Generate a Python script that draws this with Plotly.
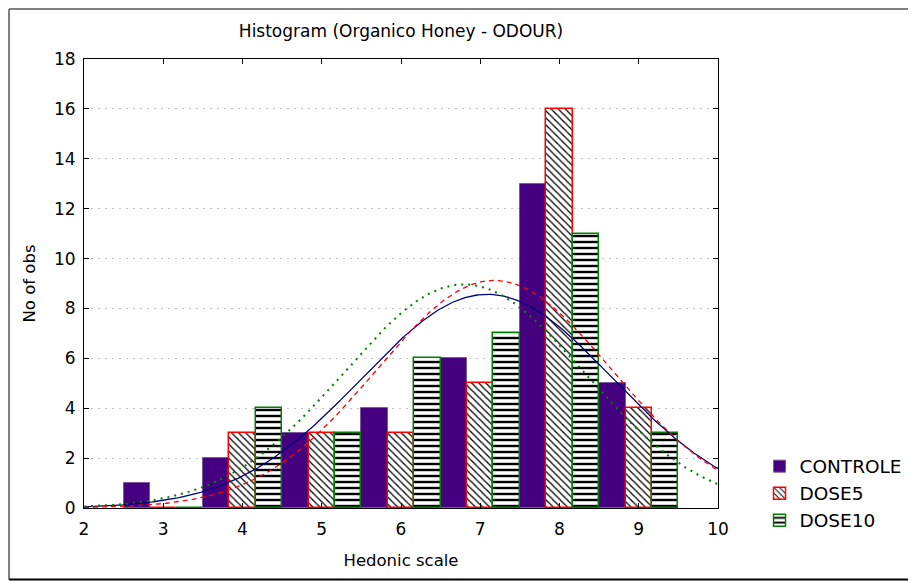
import numpy as np
import plotly.graph_objects as go

# ---- data ----
categories = [3, 4, 5, 6, 7, 8, 9]
controle = [1, 2, 3, 4, 6, 13, 5]
dose5 = [0, 3, 3, 3, 5, 16, 4]
dose10 = [0, 4, 3, 6, 7, 11, 3]
x_ticks = [2, 3, 4, 5, 6, 7, 8, 9, 10]
y_ticks = [0, 2, 4, 6, 8, 10, 12, 14, 16, 18]

FONT = "DejaVu Sans"


def normal_fit(counts):
    """Expected normal curve fitted to the histogram counts (bin width 1)."""
    obs = np.repeat(categories, counts).astype(float)
    n, m, s = len(obs), obs.mean(), obs.std(ddof=1)
    xs = np.linspace(x_ticks[0], x_ticks[-1], 401)
    ys = n * np.exp(-(xs - m) ** 2 / (2 * s * s)) / (s * np.sqrt(2 * np.pi))
    return xs, ys


fig = go.Figure()

fig.add_trace(go.Bar(
    x=categories, y=controle, name="CONTROLE",
    marker=dict(color="#44007f", line=dict(color="#7a5a9e", width=1)),
))
fig.add_trace(go.Bar(
    x=categories, y=dose5, name="DOSE5",
    marker=dict(color="white",
                pattern=dict(shape="\\", fgcolor="black", bgcolor="white",
                             size=5, solidity=0.25, fillmode="replace"),
                line=dict(color="#ff0000", width=1.5)),
))
fig.add_trace(go.Bar(
    x=categories, y=dose10, name="DOSE10",
    marker=dict(color="white",
                pattern=dict(shape="-", fgcolor="black", bgcolor="white",
                             size=6, solidity=0.4, fillmode="replace"),
                line=dict(color="#008000", width=1.5)),
))

for counts, color, dash, width in [
    (controle, "#00007f", "solid", 1.3),
    (dose5, "#ff0000", "5px,4px", 1.3),
    (dose10, "#008000", "2px,5px", 2),
]:
    xs, ys = normal_fit(counts)
    fig.add_trace(go.Scatter(x=xs, y=ys, mode="lines", showlegend=False,
                             hoverinfo="skip",
                             line=dict(color=color, dash=dash, width=width)))

axis_common = dict(
    showline=True, linecolor="black", linewidth=1, mirror="ticks",
    ticks="inside", ticklen=5, tickcolor="black", zeroline=False,
    tickfont=dict(family=FONT, size=17, color="black"),
)

# outer frame edges (paper coordinates relative to the plot area)
FX0, FX1, FY0, FY1 = -0.1183, 1.3107, -0.1592, 1.1114

fig.update_layout(
    width=916, height=581,
    margin=dict(l=76, r=206, t=51, b=81),
    paper_bgcolor="white", plot_bgcolor="white",
    barmode="group", bargap=0, bargroupgap=0,
    font=dict(family=FONT, color="black"),
    title=dict(text="Histogram (Organico Honey - ODOUR)", x=0.5, xref="paper",
               y=1 - 23 / 581, yref="container", yanchor="middle",
               font=dict(family=FONT, size=17, color="black")),
    xaxis=dict(range=[2, 10], tickvals=x_ticks, showgrid=False,
               ticklabelstandoff=6,
               title=dict(text="Hedonic scale", standoff=16,
                          font=dict(family=FONT, size=16.5)),
               **axis_common),
    yaxis=dict(range=[0, 18], tickvals=y_ticks, showgrid=True,
               gridcolor="#c4c4c4", griddash="2px,5px", gridwidth=1,
               ticklabelstandoff=4,
               title=dict(text="No of obs", standoff=14,
                          font=dict(family=FONT, size=16.5)),
               **axis_common),
    legend=dict(x=1.0655, y=0.1345, xanchor="left", yanchor="top",
                font=dict(family=FONT, size=18.5), traceorder="normal",
                tracegroupgap=4, bgcolor="rgba(0,0,0,0)"),
    shapes=[
        dict(type="line", xref="paper", yref="paper",
             x0=FX0, x1=FX1, y0=FY1, y1=FY1,
             line=dict(color="#808080", width=2)),
        dict(type="line", xref="paper", yref="paper",
             x0=FX0, x1=FX0, y0=FY1, y1=FY0,
             line=dict(color="#808080", width=2)),
        dict(type="line", xref="paper", yref="paper",
             x0=FX0, x1=FX1, y0=FY0, y1=FY0,
             line=dict(color="black", width=2)),
        dict(type="line", xref="paper", yref="paper",
             x0=FX1, x1=FX1, y0=FY1, y1=FY0,
             line=dict(color="#d0d0d0", width=1)),
    ],
)

fig.write_html("out.html")
